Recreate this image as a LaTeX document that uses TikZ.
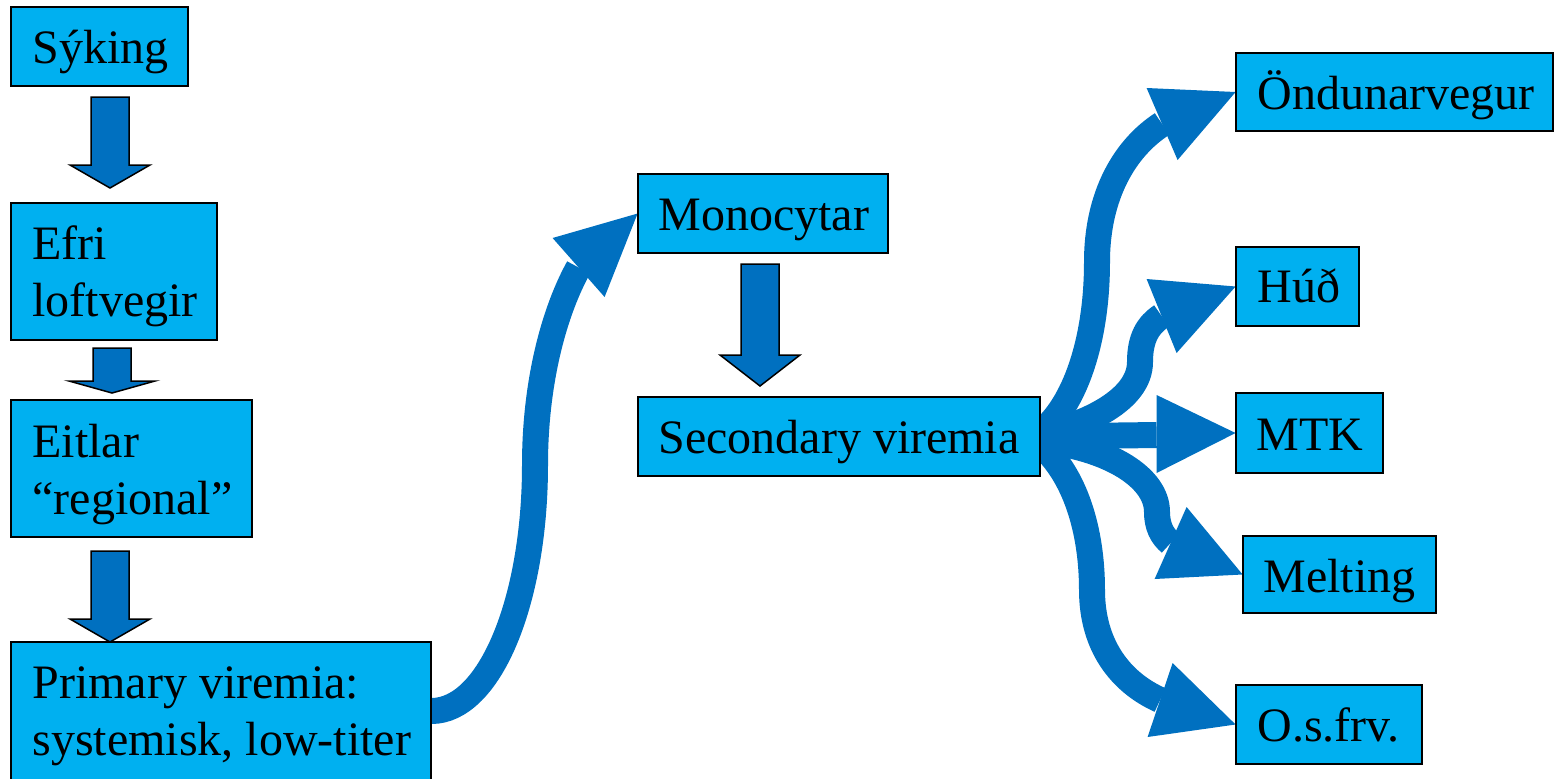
\documentclass[tikz,border=0pt]{standalone}
\usepackage{fontspec}
\setmainfont{Liberation Serif}
\usetikzlibrary{calc,fit}
\definecolor{boxblue}{HTML}{00B0F0}
\definecolor{arrblue}{HTML}{0070C0}
\newcommand\blkdown[6]{%
  \filldraw[blockarrow] (#1-#5,#2) -- (#1+#5,#2) -- (#1+#5,#3) -- (#1+#6,#3) -- (#1,#4) -- (#1-#6,#3) -- (#1-#5,#3) -- cycle;}
\newcommand\twoln[2]{\vtop{\hbox{#1}\hbox{#2}}}
\begin{document}
\begin{tikzpicture}[x=0.5pt,y=-0.5pt,
  box/.style={draw=black, line width=1pt, fill=boxblue, inner sep=0pt},
  txt/.style={inner sep=0pt, anchor=base west, font=\fontsize{24}{28.5}\selectfont},
  blockarrow/.style={fill=arrblue, draw=black, line width=0.75pt},
  shaft/.style={draw=arrblue, line width=13pt, line cap=butt},
  headtip/.style={fill=arrblue}]
\clip (0,0) rectangle (1555,778);
% box geometry (invisible first, for names)
\path node[fit={(11,7) (188,86)}, inner sep=0pt] (syk) {}
      node[fit={(11,203) (217,340)}, inner sep=0pt] (efri) {}
      node[fit={(11,400) (252,537)}, inner sep=0pt] (eit) {}
      node[fit={(11,642) (431,780)}, inner sep=0pt] (prim) {}
      node[fit={(638,174) (888,253)}, inner sep=0pt] (mono) {}
      node[fit={(638,397) (1040,476)}, inner sep=0pt] (sec) {}
      node[fit={(1236,53) (1553,131)}, inner sep=0pt] (ond) {}
      node[fit={(1236,247) (1359,326)}, inner sep=0pt] (hud) {}
      node[fit={(1236,393) (1383,473)}, inner sep=0pt] (mtk) {}
      node[fit={(1243,536) (1436,613)}, inner sep=0pt] (mel) {}
      node[fit={(1236,685) (1422,764)}, inner sep=0pt] (osf) {};
% curved connectors
\draw[shaft] (prim.east) .. controls (490,711) and (535,600) .. (535,465)
   .. controls (535,380) and (555,310) .. ($(mono.west)+(-59,54)$);
\fill[headtip] (mono.west) -- ($(mono.west)+(-85,24.5)$) -- ($(mono.west)+(-33,83.5)$) -- cycle;

\draw[shaft] ($(sec.east)+(0,-4)$) .. controls (1075,405) and (1097,340) .. (1097,262)
   .. controls (1097,195) and (1125,148) .. ($(ond.west)+(-73.5,32)$);
\fill[headtip] (ond.west) -- ($(ond.west)+(-89,-4)$) -- ($(ond.west)+(-58,68)$) -- cycle;

\draw[shaft] ($(sec.east)+(0,-2)$) .. controls (1085,425) and (1140,400) .. (1140,362)
   .. controls (1140,338) and (1148,325) .. ($(hud.west)+(-74,29.5)$);
\fill[headtip] (hud.west) -- ($(hud.west)+(-89,-7.5)$) -- ($(hud.west)+(-59,66.5)$) -- cycle;

\draw[shaft] (sec.east) -- ($(mtk.west)+(-79,2)$);
\fill[headtip] (mtk.west) -- ($(mtk.west)+(-79,-38)$) -- ($(mtk.west)+(-79,40)$) -- cycle;

\draw[shaft] ($(sec.east)+(0,4)$) .. controls (1110,448) and (1157,478) .. (1157,512)
   .. controls (1157,526) and (1162,536) .. ($(mel.west)+(-72,-31.5)$);
\fill[headtip] (mel.west) -- ($(mel.west)+(-56,-67.5)$) -- ($(mel.west)+(-88,4.5)$) -- cycle;

\draw[shaft] ($(sec.east)+(0,8)$) .. controls (1075,475) and (1092,530) .. (1092,590)
   .. controls (1092,645) and (1120,682) .. ($(osf.west)+(-75.5,-24.5)$);
\fill[headtip] (osf.west) -- ($(osf.west)+(-63,-61.5)$) -- ($(osf.west)+(-88,12.5)$) -- cycle;

% block arrows
\blkdown{110}{97}{165}{188}{19}{40}
\blkdown{112}{348}{381}{393}{19}{43}
\blkdown{110}{551}{619}{642}{19}{40}
\blkdown{760}{264}{355}{386}{19}{40}

% boxes
\foreach \b in {syk,efri,eit,prim,mono,sec,ond,hud,mtk,mel,osf}
  \draw[box] (\b.north west) rectangle (\b.south east);

% texts
\node[txt] (tsyk) at (32,63) {Sýking};
\node[txt] (tefri) at (32,259) {\twoln{Efri}{loftvegir}};
\node[txt] (teit) at (32,457) {\twoln{Eitlar}{“regional”}};
\node[txt] (tprim) at (32,698) {\twoln{Primary viremia:}{systemisk, low-titer}};
\node[txt] (tmono) at (658,230) {Monocytar};
\node[txt] (tsec) at (658,453) {Secondary viremia};
\node[txt] (tond) at (1257,109) {Öndunarvegur};
\node[txt] (thud) at (1257,302) {Húð};
\node[txt] (tmtk) at (1256,450) {MTK};
\node[txt] (tmel) at (1263,592) {Melting};
\node[txt] (tosf) at (1257,741) {O.s.frv.};
\end{tikzpicture}
\end{document}
